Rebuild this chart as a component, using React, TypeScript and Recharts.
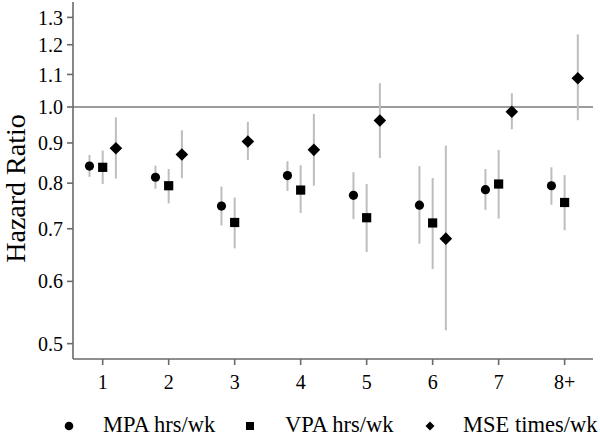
import React from 'react';
import { ComposedChart, Scatter, XAxis, YAxis, ErrorBar, ReferenceLine } from 'recharts';

const categories = ['1', '2', '3', '4', '5', '6', '7', '8+'];
const yTicks = [0.5, 0.6, 0.7, 0.8, 0.9, 1.0, 1.1, 1.2, 1.3];

const mpaHR = [0.841, 0.814, 0.748, 0.818, 0.772, 0.75, 0.785, 0.794];
const mpaLow = [0.815, 0.787, 0.707, 0.782, 0.72, 0.67, 0.74, 0.751];
const mpaHigh = [0.869, 0.842, 0.792, 0.853, 0.826, 0.841, 0.834, 0.838];

const vpaHR = [0.838, 0.794, 0.713, 0.784, 0.723, 0.712, 0.798, 0.756];
const vpaLow = [0.798, 0.754, 0.661, 0.733, 0.654, 0.622, 0.721, 0.697];
const vpaHigh = [0.88, 0.834, 0.767, 0.843, 0.798, 0.812, 0.882, 0.819];

const mseHR = [0.886, 0.87, 0.904, 0.882, 0.961, 0.68, 0.986, 1.088];
const mseLow = [0.811, 0.812, 0.856, 0.794, 0.861, 0.52, 0.937, 0.962];
const mseHigh = [0.97, 0.934, 0.957, 0.98, 1.072, 0.893, 1.041, 1.237];

const seriesNames = ['MPA hrs/wk', 'VPA hrs/wk', 'MSE times/wk'];
const dodge = [-0.2, 0, 0.2];

const build = (hr: number[], lo: number[], hi: number[], off: number) =>
  hr.map((v, i) => ({ x: i + 1 + off, y: v, err: [v - lo[i], hi[i] - v] }));

const mpaData = build(mpaHR, mpaLow, mpaHigh, dodge[0]);
const vpaData = build(vpaHR, vpaLow, vpaHigh, dodge[1]);
const mseData = build(mseHR, mseLow, mseHigh, dodge[2]);

const FONT = '"Liberation Serif", "Times New Roman", serif';
const AXIS = '#6a6a6a';
const ERR = '#bdbdbd';

const CircleShape = (p: any) => <circle cx={p.cx} cy={p.cy} r={4.6} fill="#000" />;
const SquareShape = (p: any) => <rect x={p.cx - 4.6} y={p.cy - 4.6} width={9.2} height={9.2} fill="#000" />;
const DiamondShape = (p: any) => (
  <polygon
    points={`${p.cx},${p.cy - 6.3} ${p.cx + 6.3},${p.cy} ${p.cx},${p.cy + 6.3} ${p.cx - 6.3},${p.cy}`}
    fill="#000"
  />
);

const YLabel = (props: any) => {
  const vb = props.viewBox || { x: 0, y: 0, width: 73, height: 357 };
  const cx = vb.x + 15;
  const cy = vb.y + vb.height / 2 + 8;
  return (
    <text
      x={cx}
      y={cy}
      transform={`rotate(-90 ${cx} ${cy})`}
      textAnchor="middle"
      dominantBaseline="central"
      fontFamily={FONT}
      fontSize={28}
      fill="#000"
    >
      Hazard Ratio
    </text>
  );
};

const LegendMarker = ({ kind }: { kind: number }) => (
  <svg width={14} height={14} style={{ display: 'block' }}>
    {kind === 0 && <circle cx={7} cy={7} r={4.3} fill="#000" />}
    {kind === 1 && <rect x={3} y={3} width={8} height={8} fill="#000" />}
    {kind === 2 && <polygon points="7,2.5 11.5,7 7,11.5 2.5,7" fill="#000" />}
  </svg>
);

const legendPos = [
  { m: 62, t: 103 },
  { m: 243, t: 285 },
  { m: 423, t: 463 },
];

export default function App() {
  return (
    <div style={{ position: 'absolute', left: 0, top: 0, width: 600, height: 436, background: '#fff' }}>
      <ComposedChart width={600} height={436} margin={{ top: 2, right: 7, left: 0, bottom: 0 }}>
        <XAxis
          xAxisId="b"
          type="number"
          dataKey="x"
          domain={[0.55, 8.43]}
          allowDataOverflow
          ticks={[1, 2, 3, 4, 5, 6, 7, 8]}
          interval={0}
          tickFormatter={(v: number) => categories[Math.round(v) - 1]}
          height={77}
          axisLine={{ stroke: AXIS, strokeWidth: 1.6 }}
          tickLine={{ stroke: AXIS, strokeWidth: 1.6 }}
          tickSize={6}
          tickMargin={10}
          tick={{ fill: '#000', fontSize: 20, fontFamily: FONT }}
        />
        <XAxis
          xAxisId="t"
          orientation="top"
          type="number"
          domain={[0.55, 8.43]}
          height={0}
          tick={false}
          tickLine={false}
          axisLine={{ stroke: AXIS, strokeWidth: 1.6 }}
        />
        <YAxis
          yAxisId="l"
          type="number"
          dataKey="y"
          scale="log"
          domain={[0.478, 1.36]}
          allowDataOverflow
          ticks={yTicks}
          interval={0}
          tickFormatter={(v: number) => v.toFixed(1)}
          width={73}
          axisLine={{ stroke: AXIS, strokeWidth: 1.6 }}
          tickLine={{ stroke: AXIS, strokeWidth: 1.6 }}
          tickSize={6}
          tickMargin={4}
          tick={{ fill: '#000', fontSize: 20, fontFamily: FONT }}
          label={{ content: YLabel }}
        />
        <YAxis
          yAxisId="r"
          orientation="right"
          type="number"
          scale="log"
          domain={[0.478, 1.36]}
          width={0}
          tick={false}
          tickLine={false}
          axisLine={{ stroke: AXIS, strokeWidth: 1.6 }}
        />
        <ReferenceLine xAxisId="b" yAxisId="l" y={1.0} stroke="#7a7a7a" strokeWidth={1.6} />
        <Scatter name={seriesNames[0]} xAxisId="b" yAxisId="l" data={mpaData} dataKey="y" shape={CircleShape} isAnimationActive={false}>
          <ErrorBar dataKey="err" direction="y" width={0} stroke={ERR} strokeWidth={2} />
        </Scatter>
        <Scatter name={seriesNames[1]} xAxisId="b" yAxisId="l" data={vpaData} dataKey="y" shape={SquareShape} isAnimationActive={false}>
          <ErrorBar dataKey="err" direction="y" width={0} stroke={ERR} strokeWidth={2} />
        </Scatter>
        <Scatter name={seriesNames[2]} xAxisId="b" yAxisId="l" data={mseData} dataKey="y" shape={DiamondShape} isAnimationActive={false}>
          <ErrorBar dataKey="err" direction="y" width={0} stroke={ERR} strokeWidth={2} />
        </Scatter>
      </ComposedChart>
      {seriesNames.map((name, i) => (
        <React.Fragment key={name}>
          <div style={{ position: 'absolute', left: legendPos[i].m, top: 419 }}>
            <LegendMarker kind={i} />
          </div>
          <div
            style={{
              position: 'absolute',
              left: legendPos[i].t,
              top: 414,
              fontFamily: FONT,
              fontSize: 22.5,
              lineHeight: '22px',
              color: '#000',
              whiteSpace: 'nowrap',
            }}
          >
            {name}
          </div>
        </React.Fragment>
      ))}
    </div>
  );
}
